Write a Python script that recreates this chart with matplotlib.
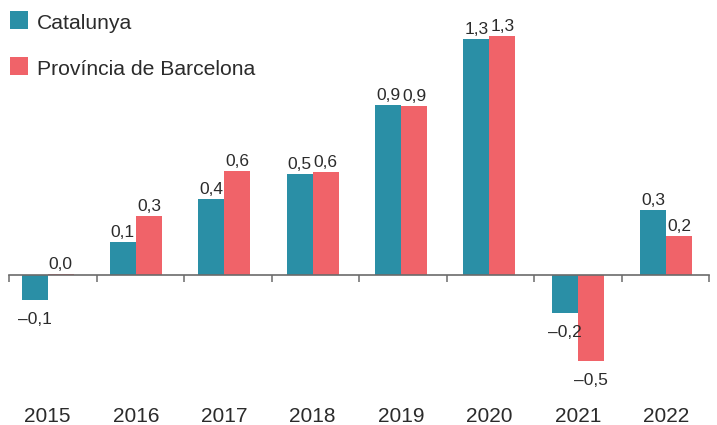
"""Grouped bars: Catalunya vs Província de Barcelona, 2015-2022."""
import numpy as np
import matplotlib.pyplot as plt
from matplotlib.patches import Rectangle

years = ["2015", "2016", "2017", "2018", "2019", "2020", "2021", "2022"]
# bar heights
catalunya = [-0.134, 0.178, 0.411, 0.548, 0.919, 1.276, -0.204, 0.351]
barcelona = [0.005, 0.319, 0.562, 0.557, 0.914, 1.292, -0.463, 0.211]
# printed labels
cat_labels = ["\u20130,1", "0,1", "0,4", "0,5", "0,9", "1,3", "\u20130,2", "0,3"]
bcn_labels = ["0,0", "0,3", "0,6", "0,6", "0,9", "1,3", "\u20130,5", "0,2"]
series_names = ["Catalunya", "Província de Barcelona"]

TEAL = "#2a8fa6"
RED = "#f06369"
TEXT = "#2b2b2b"
AXIS = "#6b6b6b"

plt.rcParams["font.family"] = ["Liberation Sans", "DejaVu Sans"]

W, H = 717, 425
fig = plt.figure(figsize=(W / 100, H / 100), dpi=100)
ax = fig.add_axes([9 / W, 0, 700 / W, 1])

# baseline at 275 px from top, ~185 px per unit
scale = 185
ax.set_ylim(-(H - 275) / scale, 275 / scale)
x0, x1 = -0.436, 7.486
ax.set_xlim(x0, x1)

x = np.arange(len(years))
w = 0.294
b1 = ax.bar(x - w / 2, catalunya, width=w, color=TEAL, linewidth=0)
b2 = ax.bar(x + w / 2, barcelona, width=w, color=RED, linewidth=0)

for bars, labels in ((b1, cat_labels), (b2, bcn_labels)):
    for rect, lab in zip(bars, labels):
        v = rect.get_height()
        cx = rect.get_x() + rect.get_width() / 2
        off = 3.6 if v >= 0 else -17.6
        ax.annotate(lab, (cx, v), xytext=(0, off), textcoords="offset points",
                    ha="center", va="baseline", fontsize=12.5, color=TEXT)

for sp in ("top", "right", "left"):
    ax.spines[sp].set_visible(False)
ax.spines["bottom"].set_position(("data", 0))
ax.spines["bottom"].set_color(AXIS)
ax.spines["bottom"].set_linewidth(1.2)
ax.set_yticks([])
# group boundaries spread evenly over the axis
ax.set_xticks(np.linspace(x0, x1, len(years) + 1))
ax.set_xticklabels([])
ax.tick_params(axis="x", length=5, width=1.1, color=AXIS, direction="out")
ax.set_facecolor("none")

for xi, yr in zip(x, years):
    ax.text(xi, 1 - 422 / H, yr, transform=ax.get_xaxis_transform(),
            ha="center", va="baseline", fontsize=15, color=TEXT)

# legend drawn by hand
for (top, name, col) in ((11, series_names[0], TEAL), (57, series_names[1], RED)):
    fig.patches.append(Rectangle((10 / W, 1 - (top + 18) / H), 18 / W, 18 / H,
                                 transform=fig.transFigure, color=col, linewidth=0))
    fig.text(37 / W, 1 - (top + 18) / H, name, ha="left", va="baseline",
             fontsize=15.2, color=TEXT)

fig.savefig("out.png", dpi=100)
